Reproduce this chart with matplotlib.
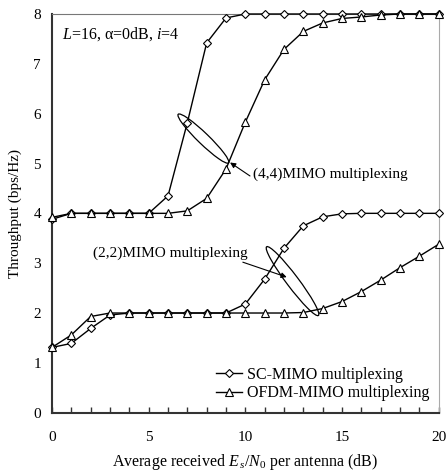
import numpy as np
import matplotlib
matplotlib.use("Agg")
import matplotlib.pyplot as plt
from matplotlib.patches import Ellipse
from matplotlib.transforms import ScaledTranslation

plt.rcParams['font.family'] = ['Liberation Serif', 'DejaVu Serif']
plt.rcParams['mathtext.fontset'] = 'custom'
plt.rcParams['mathtext.rm'] = 'Liberation Serif'
plt.rcParams['mathtext.it'] = 'Liberation Serif:italic'

# Es/N0 per antenna (dB)
snr = np.arange(0, 21)

# (4,4) MIMO multiplexing
sc_44 = [3.88, 4.0, 4.0, 4.0, 4.0, 4.0, 4.35, 5.82, 7.42, 7.92, 8.0,
         8.0, 8.0, 8.0, 8.0, 8.0, 8.0, 8.0, 8.0, 8.0, 8.0]
ofdm_44 = [3.92, 4.0, 4.0, 4.0, 4.0, 4.0, 4.0, 4.05, 4.3, 4.89, 5.83,
           6.68, 7.29, 7.65, 7.82, 7.91, 7.94, 7.98, 8.0, 8.0, 8.0]

# (2,2) MIMO multiplexing
sc_22 = [1.31, 1.39, 1.69, 1.96, 2.0, 2.0, 2.0, 2.0, 2.0, 2.0, 2.18,
         2.68, 3.3, 3.75, 3.93, 3.99, 4.0, 4.0, 4.0, 4.0, 4.0]
ofdm_22 = [1.31, 1.56, 1.93, 2.0, 2.0, 2.0, 2.0, 2.0, 2.0, 2.0, 2.0,
           2.0, 2.0, 2.01, 2.09, 2.23, 2.43, 2.66, 2.91, 3.14, 3.38]

fig = plt.figure(figsize=(4.46, 4.71), dpi=100)
ax = fig.add_axes([0.1166, 0.1238, 0.8670, 0.8465])

mk_d = dict(marker='D', markersize=4, markerfacecolor='white',
            markeredgecolor='black', markeredgewidth=0.8, color='black', lw=1)
mk_t = dict(marker='^', markersize=6, markerfacecolor='white',
            markeredgecolor='black', markeredgewidth=0.8, color='black', lw=1)

ax.plot(snr, sc_44, **mk_d, label='SC-MIMO multiplexing', clip_on=False, zorder=3)
ax.plot(snr, ofdm_44, **mk_t, label='OFDM-MIMO multiplexing', clip_on=False, zorder=3)
ax.plot(snr, sc_22, **mk_d, clip_on=False, zorder=3)
ax.plot(snr, ofdm_22, **mk_t, clip_on=False, zorder=3)

ax.set_xlim(0, 20)
ax.set_ylim(0, 8)
ax.set_xticks([0, 5, 10, 15, 20])
ax.set_xticks(np.arange(0, 21), minor=True)
ax.set_yticks(np.arange(0, 9))
ax.tick_params(axis='x', which='both', direction='in', length=4, width=1,
               color='#333333', labelsize=11, pad=13)
ax.tick_params(axis='y', length=0, labelsize=11, pad=8)

for s in ['left', 'bottom']:
    ax.spines[s].set_color('#333333')
    ax.spines[s].set_linewidth(1.5)
ax.spines['top'].set_color('#777777')
ax.spines['right'].set_color('#aaaaaa')

ax.set_xlabel('Average received $E_{\\,s}/N_{\\rm 0}$ per antenna (dB)', fontsize=11.5, labelpad=6)
ax.set_ylabel('Throughput (bps/Hz)', fontsize=11, labelpad=8)

ax.text(0.5, 7.6, '$L$=16, \u03b1=0dB, $i$=4', fontsize=11.5, va='center')

# ellipses drawn in screen units around the curve pairs
def ring(cx, cy, w, h, ang):
    tr = fig.dpi_scale_trans + ScaledTranslation(cx, cy, ax.transData)
    ax.add_patch(Ellipse((0, 0), w / 100, h / 100, angle=ang, fill=False,
                         lw=0.9, ec='black', transform=tr, zorder=4))

ring(7.83, 5.50, 70, 11, -44)
ring(12.44, 2.64, 86, 12, -53)

arw = dict(arrowstyle='-|>', lw=0.8, color='black', mutation_scale=8,
           shrinkA=0, shrinkB=0)
ax.annotate('', xy=(9.21, 5.02), xytext=(10.24, 4.75), arrowprops=arw)
ax.text(10.4, 4.79, '(4,4)MIMO multiplexing', fontsize=11, va='center')
ax.annotate('', xy=(12.14, 2.72), xytext=(9.87, 3.02), arrowprops=arw)
ax.text(2.12, 3.19, '(2,2)MIMO multiplexing', fontsize=11, va='center')

ax.legend(loc='lower right', bbox_to_anchor=(1.0, 0.005), frameon=False,
          fontsize=11.5, handlelength=1.6, handletextpad=0.3, labelspacing=0.15,
          borderaxespad=0.2)

fig.savefig('out.png', dpi=100)
